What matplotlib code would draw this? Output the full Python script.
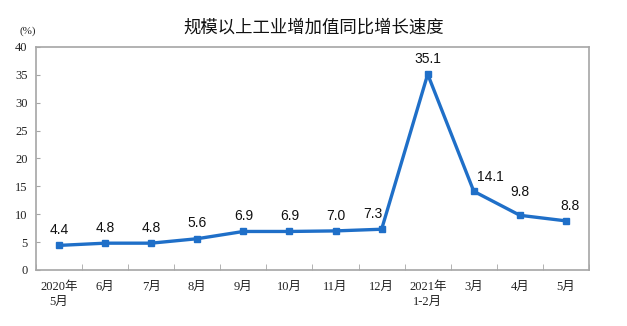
import matplotlib
matplotlib.use("Agg")
import matplotlib.pyplot as plt
import numpy as np

MONTHS = ["2020年\n5月", "6月", "7月", "8月", "9月", "10月", "11月", "12月",
          "2021年\n1-2月", "3月", "4月", "5月"]
GROWTH = [4.4, 4.8, 4.8, 5.6, 6.9, 6.9, 7.0, 7.3, 35.1, 14.1, 9.8, 8.8]
# label offsets in points (dx, dy)
LABEL_OFFSETS = [(0, 6), (0, 6), (0, 6), (0, 6), (0, 6), (0, 6), (0, 6), (-6, 6),
                 (0, 6), (12, 5), (0, 12), (3, 6)]
Y_TICKS = [0, 5, 10, 15, 20, 25, 30, 35, 40]

LINE = "#1f6fc8"
FRAME = "#a6a6a6"
SERIF = ["Liberation Serif", "Noto Sans CJK SC"]
CJK = ["Noto Sans CJK SC", "DejaVu Sans"]

fig = plt.figure(figsize=(6.27, 3.26), dpi=100)
ax = fig.add_axes([0.0574, 0.172, 0.882, 0.684])

xs = np.arange(len(GROWTH))
ax.plot(xs, GROWTH, color=LINE, linewidth=2.4, marker="s", markersize=5,
        markerfacecolor=LINE, markeredgecolor=LINE, zorder=3)

for x, v, (dx, dy) in zip(xs, GROWTH, LABEL_OFFSETS):
    ax.annotate(f"{v:.1f}", (x, v), xytext=(dx, dy), textcoords="offset points",
                ha="center", va="bottom", fontsize=10, color="#111111",
                family=["Liberation Sans", "DejaVu Sans"])

ax.set_xlim(-0.5, len(GROWTH) - 0.5)
ax.set_ylim(0, 40)
ax.set_yticks(Y_TICKS)
ax.set_yticklabels([str(t) for t in Y_TICKS], family=SERIF, fontsize=9, color="#222222")

ax.set_xticks(xs)
ax.set_xticklabels(MONTHS, family=SERIF, fontsize=9, color="#222222", linespacing=1.3)
ax.set_xticks(np.arange(-0.5, len(GROWTH), 1.0), minor=True)
ax.tick_params(axis="x", which="major", length=0, pad=8)
ax.tick_params(axis="x", which="minor", direction="in", length=4, color=FRAME)
ax.tick_params(axis="y", direction="in", length=3, color=FRAME, pad=6)

for side in ax.spines.values():
    side.set_color(FRAME)
    side.set_linewidth(1.2)

fig.text(0.045, 0.895, "(%)", family=SERIF, fontsize=8, ha="center", color="#222222")
fig.text(0.5, 0.914, "规模以上工业增加值同比增长速度", family=CJK, fontsize=12.5,
         ha="center", va="center", color="#111111")

fig.savefig("out.png", dpi=100)
